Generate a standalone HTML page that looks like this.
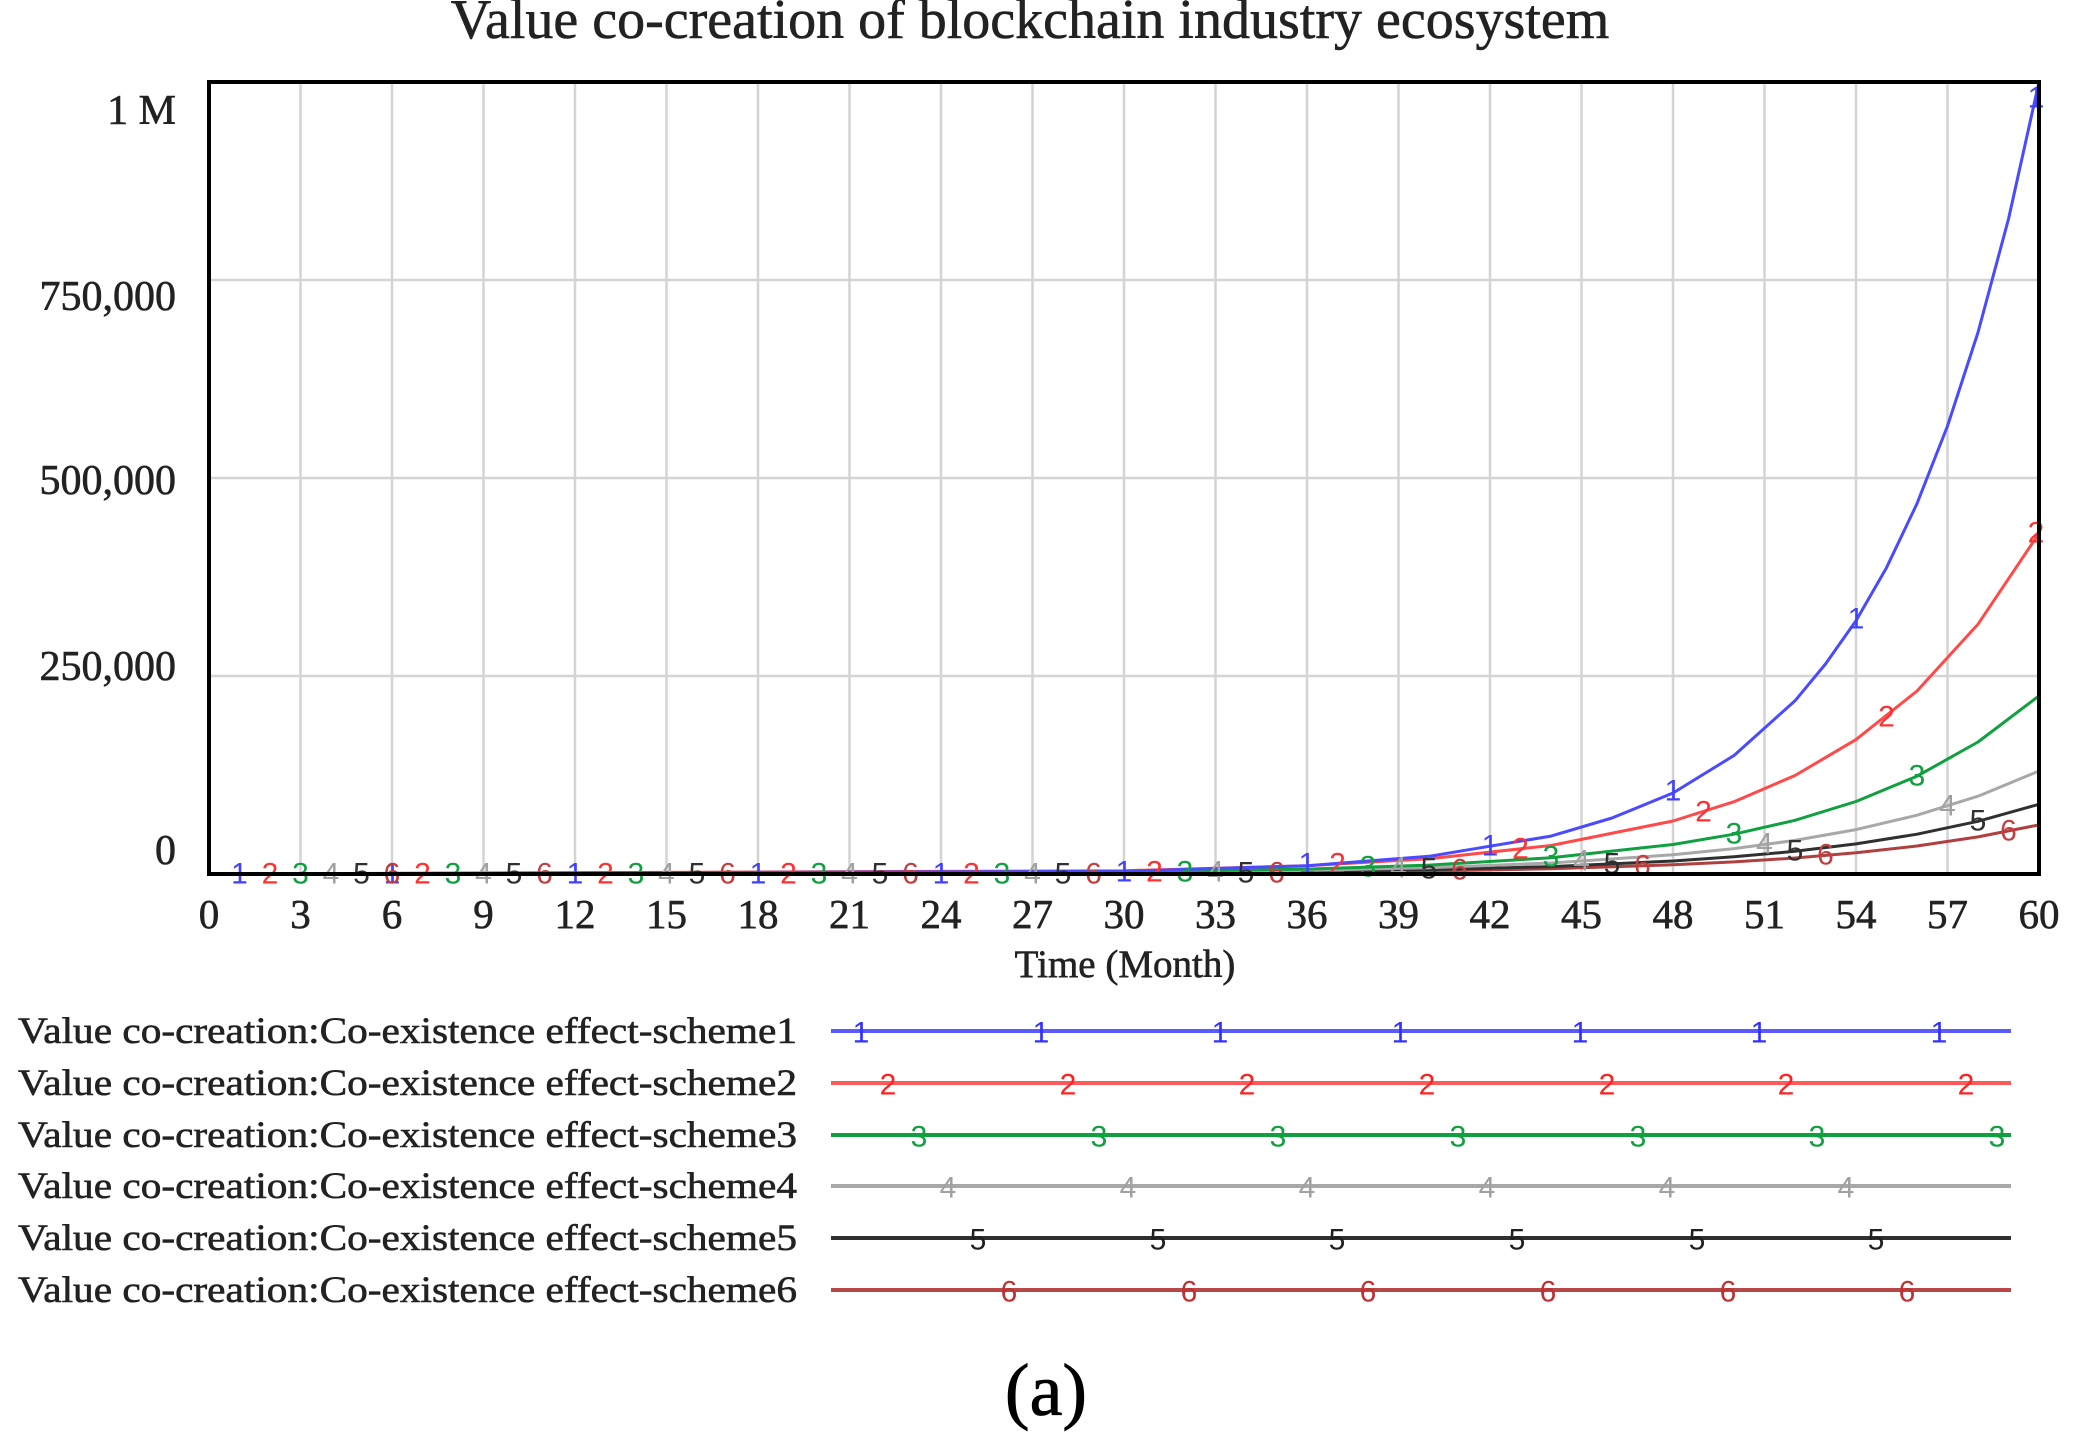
<!DOCTYPE html>
<html><head><meta charset="utf-8"><style>
html,body{margin:0;padding:0;background:#fff}
svg{display:block}
.s{font-family:"Liberation Serif",serif;fill:#222;stroke:#222;stroke-width:0.6}
.m{font-family:"Liberation Sans",sans-serif;font-size:30px;text-anchor:middle;dominant-baseline:central}
</style></head><body>
<svg width="2076" height="1455" viewBox="0 0 2076 1455" xmlns="http://www.w3.org/2000/svg">
<rect width="2076" height="1455" fill="#fff"/>
<text class="s" x="1030" y="38" font-size="56" text-anchor="middle">Value co-creation of blockchain industry ecosystem</text>
<g stroke="#d4d4d4" stroke-width="2.5">
<line x1="209" y1="280" x2="2039" y2="280"/><line x1="209" y1="478" x2="2039" y2="478"/><line x1="209" y1="676" x2="2039" y2="676"/>
<line x1="300.5" y1="82" x2="300.5" y2="874"/><line x1="392" y1="82" x2="392" y2="874"/><line x1="483.5" y1="82" x2="483.5" y2="874"/><line x1="575" y1="82" x2="575" y2="874"/><line x1="666.5" y1="82" x2="666.5" y2="874"/><line x1="758" y1="82" x2="758" y2="874"/><line x1="849.5" y1="82" x2="849.5" y2="874"/><line x1="941" y1="82" x2="941" y2="874"/><line x1="1032.5" y1="82" x2="1032.5" y2="874"/><line x1="1124" y1="82" x2="1124" y2="874"/><line x1="1215.5" y1="82" x2="1215.5" y2="874"/><line x1="1307" y1="82" x2="1307" y2="874"/><line x1="1398.5" y1="82" x2="1398.5" y2="874"/><line x1="1490" y1="82" x2="1490" y2="874"/><line x1="1581.5" y1="82" x2="1581.5" y2="874"/><line x1="1673" y1="82" x2="1673" y2="874"/><line x1="1764.5" y1="82" x2="1764.5" y2="874"/><line x1="1856" y1="82" x2="1856" y2="874"/><line x1="1947.5" y1="82" x2="1947.5" y2="874"/>
</g>
<g class="s" font-size="42" text-anchor="end">
<text x="176" y="124">1 M</text><text x="176" y="310">750,000</text><text x="176" y="494">500,000</text><text x="176" y="680">250,000</text><text x="176" y="864">0</text>
</g>
<g class="s" font-size="41" text-anchor="middle">
<text x="209" y="928">0</text><text x="300.5" y="928">3</text><text x="392" y="928">6</text><text x="483.5" y="928">9</text><text x="575" y="928">12</text><text x="666.5" y="928">15</text><text x="758" y="928">18</text><text x="849.5" y="928">21</text><text x="941" y="928">24</text><text x="1032.5" y="928">27</text><text x="1124" y="928">30</text><text x="1215.5" y="928">33</text><text x="1307" y="928">36</text><text x="1398.5" y="928">39</text><text x="1490" y="928">42</text><text x="1581.5" y="928">45</text><text x="1673" y="928">48</text><text x="1764.5" y="928">51</text><text x="1856" y="928">54</text><text x="1947.5" y="928">57</text><text x="2039" y="928">60</text>
</g>
<text class="s" x="1125" y="977" font-size="39" text-anchor="middle">Time (Month)</text>
<g fill="none" stroke-width="3" stroke-linejoin="round">
<polyline stroke="#b04040" points="209,874 1124,873.3 1307,872.3 1429,871 1551,868.8 1673,864.8 1734,861.9 1795,858 1856,852.8 1917,846 1978,836.9 2039,824.9"/>
<polyline stroke="#303030" points="209,874 1124,873 1307,871.6 1429,869.8 1551,866.6 1673,861 1734,856.8 1795,851.3 1856,843.9 1917,834.2 1978,821.3 2039,804.3"/>
<polyline stroke="#a8a8a8" points="209,874 1124,872.5 1307,870.4 1429,867.7 1551,863 1673,854.8 1734,848.6 1795,840.4 1856,829.6 1917,815.2 1978,796.2 2039,771"/>
<polyline stroke="#10a040" points="209,874 1124,872 1307,869.1 1429,865.1 1551,857.8 1673,844.5 1734,834.2 1795,820.3 1856,801.5 1917,776.2 1978,742 2039,695.8"/>
<polyline stroke="#ff4a4a" points="209,874 1124,870.7 1307,865.8 1429,858.7 1551,845.5 1673,821 1734,801.7 1795,775.5 1856,739.6 1917,691 1978,624.2 2039,533.4"/>
<polyline stroke="#4a4aff" points="209,874 1124,871.3 1307,865.7 1429,856.3 1551,836.1 1612,818 1673,793 1734,755.5 1795,700.8 1825.5,664 1856,620.7 1886.5,567.7 1917,503.6 1947.5,426 1978,332.4 2008.5,219 2039,82"/>
</g>
<g class="m" fill="#4040ff"><text x="239.5" y="874">1</text><text x="392" y="874">1</text><text x="575" y="874">1</text><text x="758" y="874">1</text><text x="941" y="874">1</text><text x="1124" y="872">1</text><text x="1307" y="864">1</text><text x="1490" y="846">1</text><text x="1673" y="791">1</text><text x="1856" y="619">1</text><text x="2036" y="98">1</text></g>
<g class="m" fill="#ff3030"><text x="270" y="874">2</text><text x="422.5" y="874">2</text><text x="605.5" y="874">2</text><text x="788.5" y="874">2</text><text x="971.5" y="874">2</text><text x="1154.5" y="872">2</text><text x="1337.5" y="864">2</text><text x="1520.5" y="849">2</text><text x="1703.5" y="812">2</text><text x="1886.5" y="717">2</text><text x="2036" y="533">2</text></g>
<g class="m" fill="#10a040"><text x="300.5" y="874">3</text><text x="453" y="874">3</text><text x="636" y="874">3</text><text x="819" y="874">3</text><text x="1002" y="874">3</text><text x="1185" y="872">3</text><text x="1368" y="867">3</text><text x="1551" y="857">3</text><text x="1734" y="834">3</text><text x="1917" y="776">3</text></g>
<g class="m" fill="#a0a0a0"><text x="331" y="874">4</text><text x="483.5" y="874">4</text><text x="666.5" y="874">4</text><text x="849.5" y="874">4</text><text x="1032.5" y="874">4</text><text x="1215.5" y="872">4</text><text x="1398.5" y="868">4</text><text x="1581.5" y="861">4</text><text x="1764.5" y="844">4</text><text x="1947.5" y="806">4</text></g>
<g class="m" fill="#303030"><text x="361.5" y="874">5</text><text x="514" y="874">5</text><text x="697" y="874">5</text><text x="880" y="874">5</text><text x="1063" y="874">5</text><text x="1246" y="873">5</text><text x="1429" y="869">5</text><text x="1612" y="864">5</text><text x="1795" y="851">5</text><text x="1978" y="821">5</text></g>
<g class="m" fill="#c04040"><text x="392" y="874">6</text><text x="544.5" y="874">6</text><text x="727.5" y="874">6</text><text x="910.5" y="874">6</text><text x="1093.5" y="874">6</text><text x="1276.5" y="873">6</text><text x="1459.5" y="870">6</text><text x="1642.5" y="866">6</text><text x="1825.5" y="855">6</text><text x="2008.5" y="831">6</text></g>
<rect x="209" y="82" width="1830" height="792" fill="none" stroke="#000" stroke-width="4"/>
<g class="s" font-size="37">
<text x="18" y="1043" textLength="779" lengthAdjust="spacingAndGlyphs">Value co-creation:Co-existence effect-scheme1</text>
<text x="18" y="1095" textLength="779" lengthAdjust="spacingAndGlyphs">Value co-creation:Co-existence effect-scheme2</text>
<text x="18" y="1147" textLength="779" lengthAdjust="spacingAndGlyphs">Value co-creation:Co-existence effect-scheme3</text>
<text x="18" y="1198" textLength="779" lengthAdjust="spacingAndGlyphs">Value co-creation:Co-existence effect-scheme4</text>
<text x="18" y="1250" textLength="779" lengthAdjust="spacingAndGlyphs">Value co-creation:Co-existence effect-scheme5</text>
<text x="18" y="1302" textLength="779" lengthAdjust="spacingAndGlyphs">Value co-creation:Co-existence effect-scheme6</text>
</g>
<g stroke-width="4">
<line x1="831" y1="1031" x2="2011" y2="1031" stroke="#5a5aff"/>
<line x1="831" y1="1083" x2="2011" y2="1083" stroke="#ff5a5a"/>
<line x1="831" y1="1135" x2="2011" y2="1135" stroke="#10a040"/>
<line x1="831" y1="1186" x2="2011" y2="1186" stroke="#a8a8a8"/>
<line x1="831" y1="1238" x2="2011" y2="1238" stroke="#303030"/>
<line x1="831" y1="1290" x2="2011" y2="1290" stroke="#b84848"/>
</g>
<g class="m" fill="#3030ff"><text x="861" y="1033">1</text><text x="1041" y="1033">1</text><text x="1220" y="1033">1</text><text x="1400" y="1033">1</text><text x="1580" y="1033">1</text><text x="1759" y="1033">1</text><text x="1939" y="1033">1</text></g>
<g class="m" fill="#ff2020"><text x="888" y="1085">2</text><text x="1068" y="1085">2</text><text x="1247" y="1085">2</text><text x="1427" y="1085">2</text><text x="1607" y="1085">2</text><text x="1786" y="1085">2</text><text x="1966" y="1085">2</text></g>
<g class="m" fill="#10a040"><text x="919" y="1137">3</text><text x="1099" y="1137">3</text><text x="1278" y="1137">3</text><text x="1458" y="1137">3</text><text x="1638" y="1137">3</text><text x="1817" y="1137">3</text><text x="1997" y="1137">3</text></g>
<g class="m" fill="#a0a0a0"><text x="948" y="1188">4</text><text x="1128" y="1188">4</text><text x="1307" y="1188">4</text><text x="1487" y="1188">4</text><text x="1667" y="1188">4</text><text x="1846" y="1188">4</text></g>
<g class="m" fill="#202020"><text x="978" y="1240">5</text><text x="1158" y="1240">5</text><text x="1337" y="1240">5</text><text x="1517" y="1240">5</text><text x="1697" y="1240">5</text><text x="1876" y="1240">5</text></g>
<g class="m" fill="#c03030"><text x="1009" y="1292">6</text><text x="1189" y="1292">6</text><text x="1368" y="1292">6</text><text x="1548" y="1292">6</text><text x="1728" y="1292">6</text><text x="1907" y="1292">6</text></g>
<text x="1046" y="1415" font-family="Liberation Serif,serif" font-size="74" text-anchor="middle" fill="#000" stroke="#000" stroke-width="0.8">(a)</text>
</svg>
</body></html>
